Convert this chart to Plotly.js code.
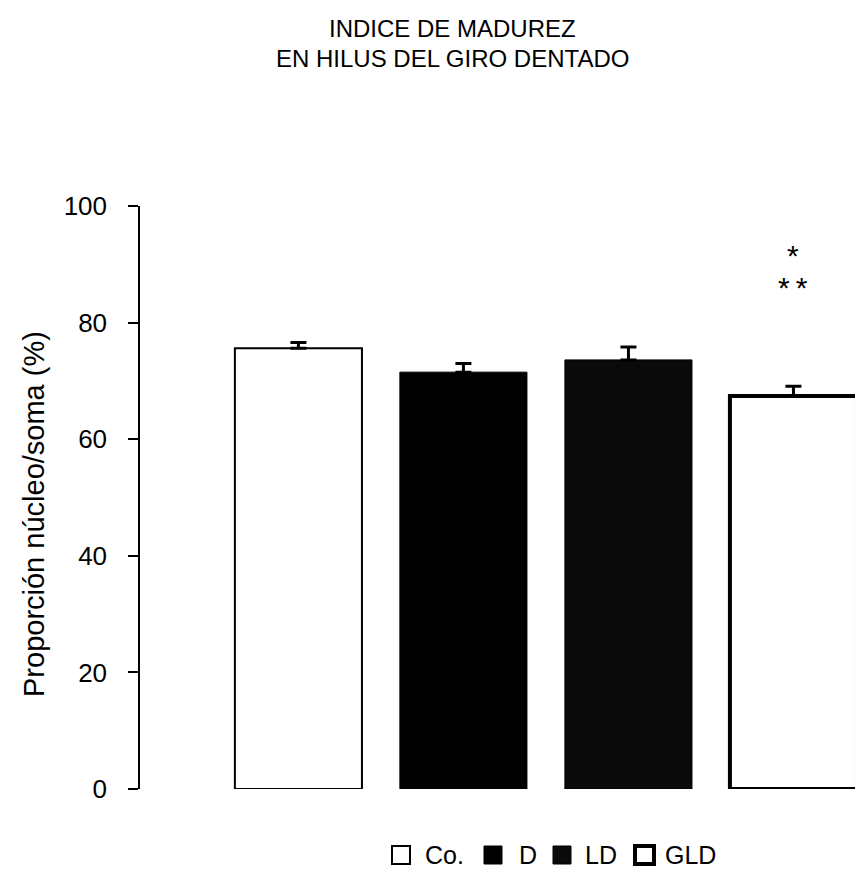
<!DOCTYPE html>
<html>
<head>
<meta charset="utf-8">
<script src="https://cdn.plot.ly/plotly-3.0.1.min.js"></script>
<style>body{margin:0;background:#fff;} #chart{width:855px;height:871px;}</style>
</head>
<body>
<div id="chart"></div>
<script>
const categories = ["Co.", "D", "LD", "GLD"];
const values = [75.6, 71.5, 73.6, 67.4];
const errorsUp = [1.0, 1.5, 2.2, 1.7];
const fillColors = ["#ffffff", "#000000", "#0a0a0a", "#ffffff"];
const lineWidths = [2, 1, 1, 4];
const yTicks = [0, 20, 40, 60, 80, 100];
const sigLabels = ["*", "*\u2009*"];
const sigValues = [91.5, 86.0];
const titleLines = ["INDICE DE MADUREZ", "EN HILUS DEL GIRO DENTADO"];
const yTitle = "Proporción núcleo/soma (%)";

// plot area geometry (px), used for legend / title placement in paper coords
const L = 140, T = 206, W = 715, H = 583;
const px = x => (x - L) / W;
const py = y => 1 - (y - T) / H;

const traces = categories.map((c, i) => ({
  type: "bar",
  x: [c],
  y: [values[i]],
  name: c,
  width: 0.77,
  marker: { color: fillColors[i], line: { color: "#000", width: lineWidths[i] } },
  error_y: { type: "data", symmetric: false, array: [errorsUp[i]], arrayminus: [0],
             color: "#000", thickness: 3, width: 8 },
  showlegend: false
}));

// legend keys (decoration): square left/right px and text start
const legendSquares = [[392, 410], [484, 502], [553, 571], [635, 654]];
const legendTextX = [424, 518, 584, 664];
const legendY = 855;
const shapes = categories.map((c, i) => ({
  type: "rect", xref: "paper", yref: "paper",
  x0: px(legendSquares[i][0]), x1: px(legendSquares[i][1]),
  y0: py(legendY + 9), y1: py(legendY - 9),
  fillcolor: fillColors[i], line: { color: "#000", width: i === 3 ? 4 : (i === 0 ? 2 : 1) }
}));

const annotations = [];
sigLabels.forEach((t, i) => annotations.push({
  x: "GLD", y: sigValues[i], xref: "x", yref: "y", text: t,
  showarrow: false, font: { size: 30 }
}));
categories.forEach((c, i) => annotations.push({
  x: px(legendTextX[i]), y: py(legendY), xref: "paper", yref: "paper",
  xanchor: "left", yanchor: "middle", text: c, showarrow: false,
  font: { size: 25 }, borderpad: 0
}));
const titleY = [28, 58];
titleLines.forEach((t, i) => annotations.push({
  x: px(452), y: py(titleY[i]), xref: "paper", yref: "paper",
  xanchor: "center", yanchor: "middle", text: t, showarrow: false,
  font: { size: 24, color: "#000" }
}));
annotations.push({
  x: px(34), y: py(514), xref: "paper", yref: "paper",
  xanchor: "center", yanchor: "middle", text: yTitle, textangle: -90,
  showarrow: false, font: { size: 29 }
});

const layout = {
  width: 855, height: 871,
  paper_bgcolor: "#fff", plot_bgcolor: "#fff",
  margin: { l: L, r: 855 - L - W, t: T, b: 871 - T - H },
  font: { family: "Liberation Sans, Arial, sans-serif", color: "#000" },
  showlegend: false,
  xaxis: { type: "category", categoryorder: "array", categoryarray: categories,
           range: [-0.96, 3.373], showticklabels: false, showline: false,
           ticks: "", showgrid: false, zeroline: false, fixedrange: true },
  yaxis: { range: [0, 100], tickvals: yTicks, ticktext: yTicks.map(String),
           showline: true, linecolor: "#000", linewidth: 1.5,
           ticks: "outside", ticklen: 10, tickwidth: 1.5, tickcolor: "#000",
           ticklabelstandoff: 16,
           showgrid: false, zeroline: false,
           tickfont: { size: 26 } },
  shapes: shapes,
  annotations: annotations
};

Plotly.newPlot("chart", traces, layout, { displayModeBar: false });
</script>
</body>
</html>
